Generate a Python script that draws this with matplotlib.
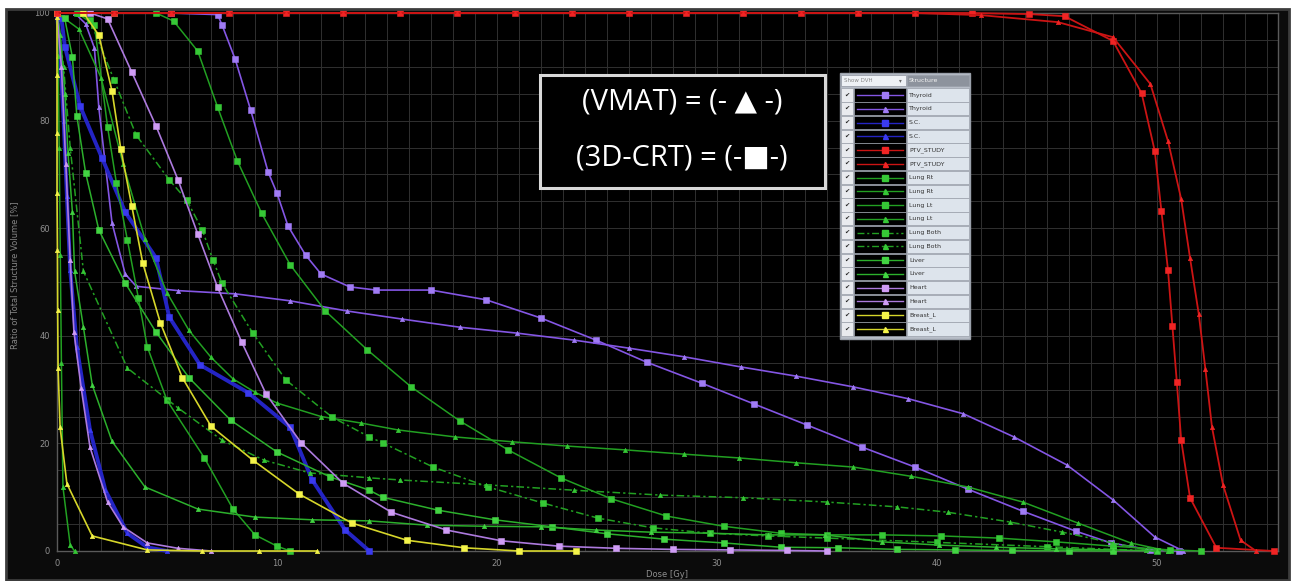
import numpy as np
import matplotlib
matplotlib.use('Agg')
import matplotlib.pyplot as plt
from matplotlib.patches import Rectangle

# ---------------- data (dose [Gy], volume [%]) ----------------
ptv_sq_dose = [0, 2.6, 5.2, 7.8, 10.4, 13.0, 15.6, 18.2, 20.8, 23.4, 26.0, 28.6, 31.2, 33.8, 36.4, 39.0, 41.6,
               44.2, 45.8, 48.0, 49.3, 49.9, 50.2, 50.5, 50.7, 50.9, 51.1, 51.5, 52.7, 55.3]
ptv_sq_vol = [100, 100, 100, 100, 100, 100, 100, 100, 100, 100, 100, 100, 100, 100, 100, 100, 100,
              99.8, 99.4, 94.8, 85.1, 74.3, 63.2, 52.2, 41.8, 31.4, 20.6, 9.9, 0.6, 0]
ptv_tri_dose = [0, 2.6, 5.2, 7.8, 10.4, 13.0, 15.6, 18.2, 20.8, 23.4, 26.0, 28.6, 31.2, 33.8, 36.4, 39.0, 42.0,
                45.5, 48.0, 49.7, 50.5, 51.1, 51.5, 51.9, 52.2, 52.5, 53.0, 53.8, 54.5]
ptv_tri_vol = [100, 100, 100, 100, 100, 100, 100, 100, 100, 100, 100, 100, 100, 100, 100, 100, 99.6,
               98.3, 95.5, 86.8, 76.2, 65.4, 54.5, 44.0, 33.8, 23.0, 12.3, 2.0, 0]

thy_sq_dose = [0, 2.6, 5.2, 7.3, 7.5, 8.1, 8.8, 9.6, 10.0, 10.5, 11.3, 12.0, 13.3, 14.5, 17.0, 19.5, 22.0, 24.5,
               26.8, 29.3, 31.7, 34.1, 36.6, 39.0, 41.4, 43.9, 46.3, 47.9, 49.7, 51.0]
thy_sq_vol = [100, 100, 100, 99.7, 97.8, 91.4, 82.0, 70.4, 66.5, 60.4, 55.0, 51.5, 49.1, 48.5, 48.5, 46.7, 43.3, 39.2,
              35.1, 31.2, 27.3, 23.4, 19.3, 15.6, 11.5, 7.4, 3.7, 1.5, 0.2, 0]
thy_tri_dose = [0, 0.8, 1.3, 1.7, 1.9, 2.5, 3.1, 3.6, 5.5, 8.1, 10.6, 13.2, 15.7, 18.3, 20.9, 23.5, 26.0, 28.5,
                31.1, 33.6, 36.2, 38.7, 41.2, 43.5, 45.9, 48.0, 49.9, 51.2]
thy_tri_vol = [100, 100, 98, 93.5, 82.5, 61, 51.5, 49.2, 48.4, 47.8, 46.5, 44.6, 43.1, 41.6, 40.5, 39.2, 37.7, 36.1,
               34.2, 32.5, 30.5, 28.3, 25.5, 21.2, 16.0, 9.5, 2.6, 0]

sc_sq_dose = [0, 0.2, 0.36, 1.05, 2.05, 3.1, 4.5, 5.1, 6.5, 8.7, 10.6, 11.6, 13.1, 14.2]
sc_sq_vol = [100, 99, 93.7, 82.7, 73, 63, 54.5, 43.5, 34.6, 29.4, 23, 13.2, 3.9, 0]
sc_tri_dose = [0, 0.15, 0.3, 0.45, 0.6, 0.9, 1.5, 2.2, 3.2, 4.1, 5.0]
sc_tri_vol = [100, 92, 80, 66, 52.2, 38, 22.5, 11.3, 3.3, 0.7, 0]

lungrt_sq_dose = [0, 0.9, 1.7, 2.3, 2.7, 3.2, 3.7, 4.1, 5.0, 6.7, 8.0, 9.0, 10.0, 10.6]
lungrt_sq_vol = [100, 100, 97.8, 78.8, 68.4, 57.8, 47, 38, 28, 17.3, 7.8, 3, 0.9, 0]
lungrt_tri_dose = [0, 0.05, 0.1, 0.15, 0.2, 0.27, 0.6, 0.8]
lungrt_tri_vol = [100, 92, 75, 55, 35, 11.9, 1.1, 0]

lunglt_sq_dose = [0, 2.6, 4.5, 5.3, 6.4, 7.3, 8.2, 9.3, 10.6, 12.2, 14.1, 16.1, 18.3, 20.5, 22.9, 25.2, 27.7,
                  30.3, 32.9, 35.0, 37.5, 40.2, 42.8, 45.4, 48.0, 50.6, 52.0]
lunglt_sq_vol = [100, 100, 100, 98.5, 92.9, 82.5, 72.5, 62.8, 53.2, 44.6, 37.4, 30.5, 24.2, 18.8, 13.6, 9.7, 6.5,
                 4.6, 3.3, 3.0, 3.0, 2.8, 2.4, 1.7, 0.9, 0.2, 0]
lunglt_tri_dose = [0, 1, 2, 3, 4, 5, 6, 7, 8, 9, 10, 12, 13.8, 15.5, 18.1, 20.7, 23.2, 25.8, 28.5, 31.0, 33.6,
                   36.2, 38.8, 41.4, 43.9, 46.4, 48.8, 50.5]
lunglt_tri_vol = [100, 97, 88, 72, 58, 48, 41, 36, 32, 29.5, 27.5, 25, 23.8, 22.5, 21.2, 20.3, 19.5, 18.8, 18.0,
                  17.3, 16.4, 15.6, 13.9, 11.9, 9.1, 5.2, 1.5, 0]

lungboth_sq_dose = [0, 1.0, 1.5, 2.6, 3.6, 5.1, 5.9, 6.6, 7.1, 7.5, 8.9, 10.4, 12.5, 14.2, 14.8, 17.1, 19.6, 22.1,
                    24.6, 27.1, 29.7, 32.3, 35.0, 40.0, 45.0, 48.0, 50.0]
lungboth_sq_vol = [100, 100, 98.7, 87.5, 77.3, 69, 65.2, 59.7, 54, 49.8, 40.5, 31.8, 24.9, 21.2, 20.1, 15.6, 11.9,
                   8.9, 6.1, 4.3, 3.3, 2.8, 2.4, 1.6, 0.8, 0.3, 0]
lungboth_tri_dose = [0, 0.3, 0.6, 1.2, 3.2, 5.5, 7.5, 9.4, 11.5, 14.2, 15.6, 19.5, 23.5, 27.4, 31.2, 35.0, 38.2,
                     40.5, 43.3, 45.7, 48.0, 49.5, 50.5]
lungboth_tri_vol = [100, 90, 75, 52, 34, 26.6, 20.6, 16.9, 14.5, 13.6, 13.2, 12.3, 11.3, 10.4, 9.9, 9.1, 8.2, 7.2,
                    5.4, 3.5, 1.5, 0.2, 0]

liver_sq_dose = [0, 0.35, 0.7, 0.9, 1.3, 1.9, 3.1, 4.5, 6.0, 7.9, 10.0, 12.4, 14.2, 14.8, 17.3, 19.9, 22.5, 25.0,
                 27.6, 30.3, 32.9, 35.5, 38.2, 40.8, 43.4, 46.0, 48.0]
liver_sq_vol = [100, 99, 91.8, 80.9, 70.3, 59.7, 49.8, 40.7, 32.2, 24.3, 18.4, 13.8, 11.3, 10.0, 7.6, 5.8, 4.5,
                3.2, 2.2, 1.5, 0.7, 0.6, 0.3, 0.2, 0.1, 0.05, 0]
liver_tri_dose = [0, 0.15, 0.36, 0.5, 0.7, 0.8, 1.2, 1.6, 2.5, 4.0, 6.4, 9.0, 11.6, 14.2, 16.8, 19.4, 22.0, 24.5,
                  27.0, 29.7, 32.3, 34.9, 37.5, 40.1, 42.7, 45.4, 48.0, 50.0]
liver_tri_vol = [100, 96, 85, 74, 63, 52, 41.6, 30.9, 20.4, 11.9, 7.8, 6.3, 5.8, 5.6, 4.8, 4.6, 4.5, 3.9, 3.5,
                 3.3, 3.0, 3.0, 1.7, 1.1, 0.7, 0.4, 0.2, 0]

heart_sq_dose = [0, 1.5, 2.3, 3.4, 4.5, 5.5, 6.4, 7.3, 8.4, 9.5, 11.1, 13.0, 15.2, 17.7, 20.2, 22.8, 25.4, 28.0,
                 30.6, 33.2, 35.0]
heart_sq_vol = [100, 100, 98.9, 89, 79, 69, 58.9, 49, 38.8, 29.2, 20.1, 12.6, 7.2, 3.9, 1.9, 0.9, 0.5, 0.3, 0.2,
                0.1, 0]
heart_tri_dose = [0, 0.2, 0.4, 0.6, 0.77, 1.1, 1.5, 2.3, 3.0, 4.1, 5.5, 7.0]
heart_tri_vol = [100, 90, 72, 54, 40.7, 30.3, 19.3, 9.1, 4.5, 1.5, 0.5, 0]

breast_sq_dose = [0, 1.2, 1.9, 2.5, 2.9, 3.4, 3.9, 4.7, 5.7, 7.0, 8.9, 11.0, 13.4, 15.9, 18.5, 21.0, 23.6]
breast_sq_vol = [100, 100, 95.9, 85.5, 74.7, 64.1, 53.5, 42.4, 32.2, 23.2, 16.9, 10.6, 5.2, 2.0, 0.6, 0, 0]
breast_tri_dose = [0, 0, 0, 0, 0, 0.02, 0.03, 0.05, 0.14, 0.45, 1.6, 4.1, 6.6, 9.2, 11.8]
breast_tri_vol = [100, 99.3, 88.5, 77.7, 66.5, 55.9, 44.8, 34.0, 23.0, 12.5, 2.8, 0.2, 0, 0, 0]

structures = ['Thyroid', 'Thyroid', 'S.C.', 'S.C.', 'PTV_STUDY', 'PTV_STUDY', 'Lung Rt', 'Lung Rt',
              'Lung Lt', 'Lung Lt', 'Lung Both', 'Lung Both', 'Liver', 'Liver', 'Heart', 'Heart',
              'Breast_L', 'Breast_L']

x_ticks = [0, 10, 20, 30, 40, 50]
y_ticks = [0, 20, 40, 60, 80, 100]

# ---------------- styles ----------------
C_THY = ('#8456e4', '#a07bf5')
C_SC = ('#2424c4', '#3a3af0')
C_PTV = ('#cc1414', '#f02424')
C_GRN = ('#22a022', '#36c836')
C_LIV = ('#2cb02c', '#42d442')
C_HRT = ('#ad7ade', '#cf9cf5')
C_BRS = ('#d6d62a', '#f4f44a')
DASHDOT = (0, (5, 2, 1.5, 2))

series = [
    (thy_sq_dose, thy_sq_vol, C_THY, 's', '-', 1.2, 3),
    (thy_tri_dose, thy_tri_vol, C_THY, '^', '-', 1.2, 3),
    (sc_sq_dose, sc_sq_vol, C_SC, 's', '-', 2.8, 3),
    (sc_tri_dose, sc_tri_vol, C_SC, '^', '-', 2.8, 3),
    (ptv_sq_dose, ptv_sq_vol, C_PTV, 's', '-', 1.3, 6),
    (ptv_tri_dose, ptv_tri_vol, C_PTV, '^', '-', 1.3, 6),
    (lungrt_sq_dose, lungrt_sq_vol, C_GRN, 's', '-', 1.1, 3),
    (lungrt_tri_dose, lungrt_tri_vol, C_GRN, '^', '-', 1.1, 3),
    (lunglt_sq_dose, lunglt_sq_vol, C_GRN, 's', '-', 1.1, 3),
    (lunglt_tri_dose, lunglt_tri_vol, C_GRN, '^', '-', 1.1, 3),
    (lungboth_sq_dose, lungboth_sq_vol, C_GRN, 's', DASHDOT, 1.1, 3),
    (lungboth_tri_dose, lungboth_tri_vol, C_GRN, '^', DASHDOT, 1.1, 3),
    (liver_sq_dose, liver_sq_vol, C_LIV, 's', '-', 1.1, 3),
    (liver_tri_dose, liver_tri_vol, C_LIV, '^', '-', 1.1, 3),
    (heart_sq_dose, heart_sq_vol, C_HRT, 's', '-', 1.2, 3),
    (heart_tri_dose, heart_tri_vol, C_HRT, '^', '-', 1.2, 3),
    (breast_sq_dose, breast_sq_vol, C_BRS, 's', '-', 1.2, 4),
    (breast_tri_dose, breast_tri_vol, C_BRS, '^', '-', 1.2, 4),
]

W, H = 1297, 581
fig = plt.figure(figsize=(W / 100, H / 100), dpi=100, facecolor='#0b0b0b')

ax = fig.add_axes([57 / W, 1 - 551 / H, (1278 - 57) / W, (551 - 13) / H])
ax.set_facecolor('black')
ax.set_xlim(0, 55.5)
ax.set_ylim(0, 100)
ax.set_xticks(x_ticks)
ax.set_yticks(y_ticks)
ax.set_xticks(np.arange(0, 56, 1), minor=True)
ax.set_yticks(np.arange(0, 101, 5), minor=True)
ax.grid(which='both', color='#303030', lw=0.7)
ax.set_axisbelow(True)
ax.tick_params(which='both', length=0, colors='#909090', labelsize=6)
ax.tick_params(axis='x', pad=6)
ax.tick_params(axis='y', pad=5)
for s in ax.spines.values():
    s.set_color('#5a5a5a')
    s.set_linewidth(1)
ax.set_xlabel('Dose [Gy]', color='#909090', fontsize=6)
ax.xaxis.set_label_coords(0.5, -0.035)
ax.set_ylabel('Ratio of Total Structure Volume [%]', color='#858585', fontsize=6)
ax.yaxis.set_label_coords(-0.031, 0.513)

for d, v, (lc, mc), mk, ls, lw, z in series:
    ms = 4.2 if mk == 's' else 3.2
    ax.plot(d, v, color=lc, lw=lw, ls=ls, marker=mk, ms=ms, mfc=mc, mec=mc, mew=0.4,
            zorder=z, clip_on=False)

# ---------------- overlay (frame, note box, structure table) ----------------
ov = fig.add_axes([0, 0, 1, 1], zorder=10)
ov.set_xlim(0, W)
ov.set_ylim(H, 0)
ov.axis('off')
ov.patch.set_alpha(0)

ov.add_patch(Rectangle((0, 0), W, 8, color='white'))
ov.add_patch(Rectangle((0, 0), 5, H, color='white'))
ov.add_patch(Rectangle((1290, 0), 7, H, color='white'))
ov.add_patch(Rectangle((6, 9), 1283, 571, fill=False, ec='#3c3c3c', lw=2))

# note box
ov.add_patch(Rectangle((540, 75), 285, 113, fc='black', ec='#d8d8d8', lw=2.2))
fam = ['Open Sans', 'DejaVu Sans']
ov.text(682, 102, '(VMAT) = (- ▲ -)', color='white', fontsize=21, ha='center', va='center', family=fam)
ov.text(682, 158, '(3D-CRT) = (-■-)', color='white', fontsize=21, ha='center', va='center', family=fam)

# structure table
ov.add_patch(Rectangle((840, 73), 130, 266, fc='#b8bec8', ec='#9aa0aa', lw=1))
ov.add_patch(Rectangle((841, 75), 65, 11, fc='#eef1f5', ec='#9aa0aa', lw=0.6))
ov.text(844, 80.5, 'Show DVH', fontsize=4, color='#888888', va='center', ha='left')
ov.text(902, 80.5, '▾', fontsize=4, color='#666666', va='center', ha='right', family=fam)
ov.add_patch(Rectangle((907, 75), 62, 11, fc='#8d939d', ec='#9aa0aa', lw=0.6))
ov.text(909, 80.5, 'Structure', fontsize=4.5, color='#f4f4f4', va='center', ha='left')

row0, step = 95.0, 13.76
for i, (name, (d, v, (lc, mc), mk, ls, lw, z)) in enumerate(zip(structures, series)):
    yc = row0 + i * step
    ov.add_patch(Rectangle((841, yc - 6.6), 12, 13.2, fc='#e9ebef', ec='#9aa0aa', lw=0.5))
    ov.text(847, yc, '✔', fontsize=4.5, color='#222222', ha='center', va='center', family=fam)
    ov.add_patch(Rectangle((854, yc - 6.6), 52, 13.2, fc='black', ec='#9aa0aa', lw=0.5))
    ov.plot([857, 903], [yc, yc], color=lc, lw=1.0, ls=ls)
    ov.plot([885], [yc], marker=mk, ms=5 if mk == 's' else 3.6, color=mc, mec=mc)
    ov.add_patch(Rectangle((907, yc - 6.6), 62, 13.2, fc='#dde4ec', ec='#9aa0aa', lw=0.5))
    ov.text(909, yc, name, fontsize=4.5, color='#333333', ha='left', va='center')

fig.savefig('out.png', dpi=100, facecolor=fig.get_facecolor())
